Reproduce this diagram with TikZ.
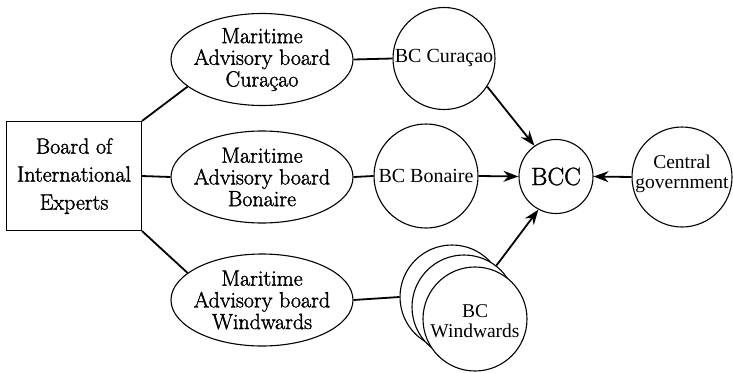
\documentclass[tikz,border=0pt]{standalone}
\usepackage{fontspec}
\setmainfont{Liberation Serif}
\newfontfamily\lmfont{Latin Modern Roman}
\usetikzlibrary{shapes.geometric,arrows.meta}
% large labels: Latin Modern with a thin outline stroke for a heavier look
\newcommand\heavytext{\special{pdf:literal 2 Tr 0.35 w}}
\begin{document}
\begin{tikzpicture}[x=1pt,y=-1pt,
  outline/.style={draw,line width=1.1pt},
  link/.style={line width=1.8pt},
  flow/.style={line width=1.8pt,-{Stealth[length=15pt,width=11pt]}},
  txt/.style={align=center,inner sep=0pt},
  board/.style={draw,line width=1pt,rectangle,minimum width=135pt,minimum height=109pt,inner sep=0pt},
  boardtext/.style={txt,font=\lmfont\fontsize{22}{28}\selectfont\heavytext},
  mab/.style={outline,ellipse,minimum width=182pt,minimum height=92pt,inner sep=0pt},
  mabtext/.style={txt,font=\lmfont\fontsize{22}{21.7}\selectfont\heavytext},
  bc/.style={outline,circle,minimum size=#1,inner sep=0pt,fill=white},
  bctext/.style={txt,font=\fontsize{20}{20}\selectfont},
  smalltext/.style={txt,font=\fontsize{19.5}{19.5}\selectfont},
  bigtext/.style={txt,font=\lmfont\fontsize{25}{25}\selectfont\heavytext}
]
\useasboundingbox (0,0) rectangle (733,372);

% board on the left
\node[board,label={[boardtext]center:{Board of\\International\\Experts}}] (bie) at (74,176) {};

% maritime advisory boards
\node[mab,label={[mabtext]center:{Maritime\\Advisory board\\Curaçao}}] (mc) at (262,59.5) {};
\node[mab,label={[mabtext]center:{Maritime\\Advisory board\\Bonaire}}] (mb) at (262,177) {};
\node[mab,label={[mabtext]center:{Maritime\\Advisory board\\Windwards}}] (mw) at (262,300) {};

% boards of commissioners
\node[bc=102pt,label={[bctext]center:BC Curaçao}] (bcu) at (444,58.5) {};
\node[bc=104pt,label={[bctext]center:BC Bonaire}] (bbo) at (426,176) {};
\node[bc=104pt] (ww1) at (452,297) {};
\node[bc=104pt] (ww2) at (464,307) {};
\node[bc=104pt,label={[smalltext,yshift=-2pt]center:{BC\\Windwards}}] (ww3) at (475,319) {};

% central nodes
\node[bc=74pt,label={[bigtext]center:BCC}] (bcc) at (556,176.5) {};
\node[bc=100pt,label={[smalltext,yshift=3pt]center:{Central\\government}}] (cg) at (682,177) {};

% plain links
\draw[link] (bie.north east) -- (mc.200);
\draw[link] (bie.east) -- (mb.west);
\draw[link] (bie.south east) -- (mw.160);
\draw[link] (mc.east) -- (bcu.west);
\draw[link] (mb.east) -- (bbo.west);
\draw[link] (mw.east) -- (ww1.west);

% arrows into BCC
\draw[flow] (bcu.-33) -- (bcc.125);
\draw[flow] (bbo.east) -- (bcc.west);
\draw[flow] (cg.west) -- (bcc.east);
\draw[flow] (ww2.52) -- (bcc.-118);
\end{tikzpicture}
\end{document}
